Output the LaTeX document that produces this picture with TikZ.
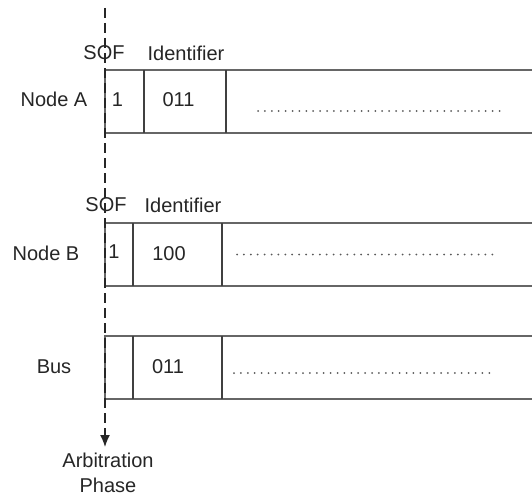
\documentclass[tikz,border=0pt]{standalone}
\usepackage{fontspec}
\setmainfont{Liberation Sans}
\usetikzlibrary{arrows.meta}
\begin{document}
\begin{tikzpicture}[x=1pt,y=-1pt,
  frame/.style={draw=black!60, line width=1.6pt},
  divider/.style={draw=black!75, line width=1.4pt},
  lbl/.style={font=\fontsize{20}{23}\selectfont, text=black!85, inner sep=0pt, anchor=center},
  dotline/.style={draw=black!65, line width=2pt, line cap=round, dash pattern=on 0pt off 6.9pt},
  axis/.style={draw=black!85, line width=1.4pt, dash pattern=on 10pt off 5pt}
]
\useasboundingbox (0,0) rectangle (532,495);
\fill[white] (0,0) rectangle (532,495);

% Row A
\coordinate (aTL) at (105,70);
\coordinate (aBL) at (105,133);
\draw[frame] (534,70) -- (aTL) -- (aBL) -- (534,133);
\draw[divider] (144,70) -- (144,133);
\draw[divider] (226,70) -- (226,133);
\node[lbl] (sofA) at (104,53) {SOF};
\node[lbl] (idA) at (186,53) {Identifier};
\node[lbl] (nodeA) at (54,99) {Node A};
\node[lbl] (a1) at (117.5,100) {1};
\node[lbl] (a2) at (178.5,100) {011};
\coordinate (aD1) at (258,111);
\coordinate (aD2) at (500,111);
\draw[dotline] (aD1) -- (aD2);

% Row B
\coordinate (bTL) at (105,223);
\coordinate (bBL) at (105,286);
\draw[frame] (534,223) -- (bTL) -- (bBL) -- (534,286);
\draw[divider] (133,223) -- (133,286);
\draw[divider] (222,223) -- (222,286);
\node[lbl] (sofB) at (106,205) {SOF};
\node[lbl] (idB) at (183,205) {Identifier};
\node[lbl] (nodeB) at (46,253.5) {Node B};
\node[lbl] (b1) at (114,252) {1};
\node[lbl] (b2) at (169,254) {100};
\coordinate (bD1) at (237,254.5);
\coordinate (bD2) at (497,254.5);
\draw[dotline] (bD1) -- (bD2);

% Bus
\coordinate (cTL) at (105,336);
\coordinate (cBL) at (105,399);
\draw[frame] (534,336) -- (cTL) -- (cBL) -- (534,399);
\draw[divider] (133,336) -- (133,399);
\draw[divider] (222,336) -- (222,399);
\node[lbl] (bus) at (54,366.5) {Bus};
\node[lbl] (c2) at (168,366.5) {011};
\coordinate (cD1) at (234,373);
\coordinate (cD2) at (492,373);
\draw[dotline] (cD1) -- (cD2);

% Arbitration axis
\coordinate (top) at (105,8);
\node[lbl, align=center, font=\fontsize{20}{25}\selectfont] (arb) at (108,472.5) {Arbitration\\Phase};
\coordinate (tip) at (105,447);
\draw[axis, -{Latex[length=12pt,width=10pt]}] (top) -- (tip);
\end{tikzpicture}
\end{document}
